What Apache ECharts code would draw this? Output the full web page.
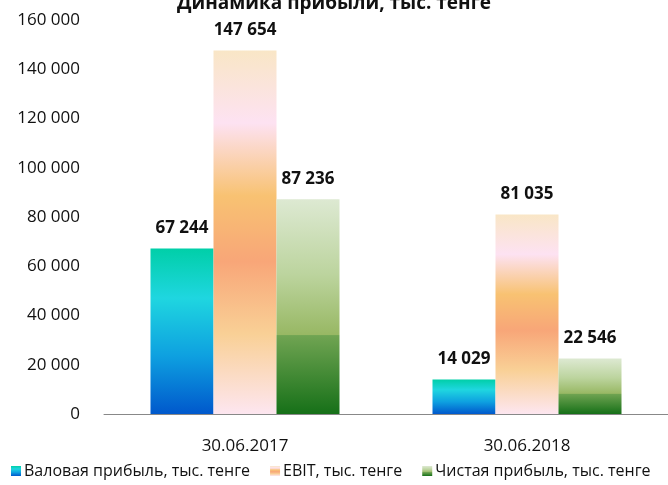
<!DOCTYPE html>
<html>
<head>
<meta charset="utf-8">
<script src="https://cdn.jsdelivr.net/npm/echarts@6/dist/echarts.min.js"></script>
<style>
    html, body {margin: 0; padding: 0; background: #fff;}
    #chart {width: 668px; height: 485px;}
</style>
</head>
<body>
<div id="chart"></div>
<script>
var categories = ['30.06.2017', '30.06.2018'];
var grossProfit = [67244, 14029];
var ebit = [147654, 81035];
var netProfit = [87236, 22546];
var seriesNames = ['Валовая прибыль, тыс. тенге', 'EBIT, тыс. тенге', 'Чистая прибыль, тыс. тенге'];

function fmt(v) {
    return String(v).replace(/\B(?=(\d{3})+(?!\d))/g, ' ');
}

function grad(stops) {
    return new echarts.graphic.LinearGradient(0, 0, 0, 1, stops);
}

var blueGrad = grad([
    {offset: 0, color: '#00cfa8'},
    {offset: 0.3, color: '#1fd6e0'},
    {offset: 0.65, color: '#0ea0e0'},
    {offset: 1, color: '#0058cc'}
]);
var orangeGrad = grad([
    {offset: 0, color: '#f9e6c6'},
    {offset: 0.2, color: '#fde2f2'},
    {offset: 0.4, color: '#f8c272'},
    {offset: 0.58, color: '#f8a678'},
    {offset: 0.78, color: '#f9d096'},
    {offset: 1, color: '#fde6f0'}
]);
var greenGrad = grad([
    {offset: 0, color: '#dde9d2'},
    {offset: 0.35, color: '#bcd49e'},
    {offset: 0.63, color: '#98b864'},
    {offset: 0.635, color: '#70a452'},
    {offset: 1, color: '#167018'}
]);

var chart = echarts.init(document.getElementById('chart'));

var labelStyle = {
    show: true,
    position: 'top',
    distance: 12,
    fontFamily: 'Open Sans',
    fontWeight: 'bold',
    fontSize: 17,
    color: '#111',
    formatter: function (p) { return fmt(p.value); }
};

var option = {
    animation: false,
    title: {
        text: 'Динамика прибыли, тыс. тенге',
        left: 'center',
        top: -11,
        textStyle: {fontFamily: 'Open Sans', fontWeight: 'bold', fontSize: 19, color: '#111'}
    },
    legend: {
        data: seriesNames,
        bottom: 1,
        left: 6,
        itemWidth: 10,
        itemHeight: 10,
        itemGap: 20,
        icon: 'rect',
        textStyle: {fontFamily: 'Open Sans', fontSize: 16, color: '#111', padding: [0, 0, 0, -2]}
    },
    grid: {left: 104, right: 0, top: 20, bottom: 71},
    xAxis: {
        type: 'category',
        data: categories,
        axisLine: {lineStyle: {color: '#888'}},
        axisTick: {show: false},
        axisLabel: {fontFamily: 'Open Sans', fontSize: 17, color: '#111', margin: 24}
    },
    yAxis: {
        type: 'value',
        min: 0,
        max: 160000,
        interval: 20000,
        splitLine: {show: false},
        axisLine: {show: false},
        axisTick: {show: false},
        axisLabel: {
            fontFamily: 'Open Sans',
            fontSize: 17,
            color: '#111',
            margin: 24,
            formatter: function (v) { return fmt(v); }
        }
    },
    series: [
        {name: seriesNames[0], type: 'bar', data: grossProfit, barWidth: 63, barGap: '0%',
            itemStyle: {color: blueGrad}, label: labelStyle},
        {name: seriesNames[1], type: 'bar', data: ebit, barWidth: 63, barGap: '0%',
            itemStyle: {color: orangeGrad}, label: labelStyle},
        {name: seriesNames[2], type: 'bar', data: netProfit, barWidth: 63, barGap: '0%',
            itemStyle: {color: greenGrad}, label: labelStyle}
    ]
};

chart.setOption(option);
</script>
</body>
</html>
